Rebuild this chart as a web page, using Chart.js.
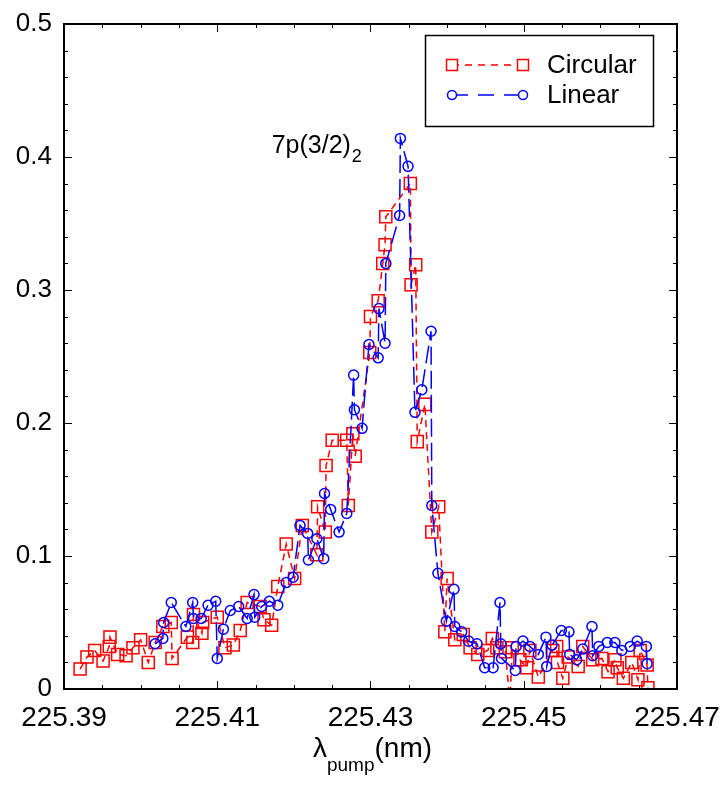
<!DOCTYPE html>
<html><head><meta charset="utf-8">
<script src="https://cdn.jsdelivr.net/npm/chart.js@4.4.1/dist/chart.umd.min.js"></script>
<style>html,body{margin:0;padding:0;background:#fff}</style>
</head><body>
<canvas id="c" width="721" height="795"></canvas>
<script>
// ---- data ----
const circularX = [225.3921,225.3930,225.3940,225.3951,225.3959,225.3960,225.3970,225.3981,225.3990,225.4000,
  225.4010,225.4019,225.4029,225.4040,225.4041,225.4061,225.4068,225.4069,225.4080,225.4081,
  225.4100,225.4110,225.4121,225.4130,225.4139,225.4156,225.4161,225.4171,225.4179,225.4190,
  225.4201,225.4211,225.4230,225.4231,225.4241,225.4242,225.4250,225.4269,225.4271,225.4277,
  225.4280,225.4299,225.4300,225.4310,225.4316,225.4319,225.4320,225.4352,225.4353,225.4359,
  225.4361,225.4371,225.4380,225.4389,225.4397,225.4400,225.4410,225.4421,225.4430,225.4440,
  225.4453,225.4459,225.4465,225.4476,225.4482,225.4485,225.4495,225.4504,225.4508,225.4519,
  225.4538,225.4543,225.4544,225.4551,225.4558,225.4571,225.4577,225.4590,225.4602,225.4610,
  225.4619,225.4622,225.4630,225.4641,225.4649,225.4652,225.4661,225.4662];
const circularY = [0.015,0.024,0.029,0.021,0.032,0.039,0.026,0.025,0.031,0.037,
  0.020,0.035,0.047,0.050,0.023,0.039,0.035,0.056,0.042,0.050,
  0.054,0.031,0.033,0.044,0.065,0.062,0.052,0.048,0.077,0.109,
  0.083,0.123,0.101,0.137,0.118,0.168,0.187,0.187,0.138,0.192,
  0.175,0.253,0.280,0.292,0.320,0.334,0.355,0.380,0.304,0.319,
  0.186,0.214,0.118,0.137,0.043,0.083,0.037,0.041,0.031,0.026,
  0.029,0.038,0.031,0.028,-0.010,0.031,0.022,0.016,0.029,0.009,
  0.029,0.032,0.020,0.008,0.024,0.017,0.032,0.022,0.023,0.013,
  0.022,0.016,0.008,0.020,0.007,0.029,0.018,0.001];
const linearX = [225.4019,225.4029,225.4030,225.4040,225.4059,225.4068,225.4069,225.4079,225.4088,225.4098,
  225.4100,225.4108,225.4117,225.4128,225.4139,225.4148,225.4149,225.4158,225.4168,225.4179,
  225.4190,225.4199,225.4208,225.4218,225.4219,225.4230,225.4239,225.4240,225.4248,225.4259,
  225.4269,225.4278,225.4279,225.4289,225.4298,225.4310,225.4311,225.4319,225.4320,225.4338,
  225.4339,225.4349,225.4358,225.4367,225.4379,225.4380,225.4388,225.4399,225.4409,225.4410,
  225.4419,225.4428,225.4439,225.4449,225.4460,225.4469,225.4470,225.4471,225.4489,225.4490,
  225.4499,225.4508,225.4519,225.4529,225.4530,225.4537,225.4549,225.4559,225.4560,225.4569,
  225.4577,225.4589,225.4590,225.4598,225.4609,225.4619,225.4628,225.4639,225.4648,225.4660,225.4661];
const linearY = [0.034,0.038,0.050,0.065,0.047,0.065,0.053,0.053,0.063,0.066,
  0.023,0.045,0.059,0.062,0.053,0.071,0.054,0.062,0.066,0.063,
  0.080,0.084,0.123,0.117,0.097,0.113,0.098,0.147,0.135,0.118,
  0.132,0.236,0.210,0.196,0.259,0.249,0.286,0.260,0.320,0.356,
  0.414,0.393,0.208,0.225,0.269,0.138,0.087,0.051,0.075,0.047,
  0.043,0.036,0.034,0.016,0.016,0.065,0.034,0.023,0.014,0.032,
  0.036,0.032,0.026,0.039,0.017,0.033,0.044,0.043,0.026,0.022,
  0.030,0.047,0.025,0.032,0.035,0.035,0.029,0.032,0.036,0.032,0.019];
const seriesNames = ['Circular', 'Linear'];
const xTickValues = [225.39, 225.41, 225.43, 225.45, 225.47];
const yTickValues = [0, 0.1, 0.2, 0.3, 0.4, 0.5];
const peakLabel = '7p(3/2)', peakLabelSub = '2';
const peakLabelAt = [225.4171, 0.403];
const xTitle = ['\u03bb', 'pump', '(nm)'];

const FONT = "'Liberation Sans', Arial, Helvetica, sans-serif";
const RED = '#ff0000', BLUE = '#0000ff';
const toPts = (xs, ys) => xs.map((x, i) => ({x, y: ys[i]}));

const decor = {
  id: 'decor',
  afterDatasetsDraw(chart) {
    const {ctx, chartArea: a, scales: {x, y}} = chart;
    ctx.save();
    // frame
    ctx.strokeStyle = '#000'; ctx.lineWidth = 2;
    ctx.strokeRect(a.left, a.top, a.right - a.left, a.bottom - a.top);
    // inward ticks
    ctx.lineWidth = 1;
    ctx.beginPath();
    for (let i = 0; i <= 16; i++) {
      const v = x.min + i * 0.005;
      const px = Math.round(x.getPixelForValue(v)) + 0.5;
      const len = i % 4 === 0 ? 8 : 4;
      ctx.moveTo(px, a.bottom); ctx.lineTo(px, a.bottom - len);
      ctx.moveTo(px, a.top); ctx.lineTo(px, a.top + len);
    }
    for (let i = 0; i <= 25; i++) {
      const v = i * 0.02;
      const py = Math.round(y.getPixelForValue(v)) + 0.5;
      const len = i % 5 === 0 ? 8 : 4;
      ctx.moveTo(a.left, py); ctx.lineTo(a.left + len, py);
      ctx.moveTo(a.right, py); ctx.lineTo(a.right - len, py);
    }
    ctx.stroke();

    // peak annotation
    ctx.fillStyle = '#000';
    ctx.textBaseline = 'alphabetic'; ctx.textAlign = 'left';
    const ax = x.getPixelForValue(peakLabelAt[0]), ay = y.getPixelForValue(peakLabelAt[1]);
    ctx.font = '25px ' + FONT;
    ctx.fillText(peakLabel, ax, ay);
    const w1 = ctx.measureText(peakLabel).width;
    ctx.font = '18px ' + FONT;
    ctx.fillText(peakLabelSub, ax + w1 + 1, ay + 9);

    // x title
    ctx.font = '28px ' + FONT; const wA = ctx.measureText(xTitle[0]).width, wC = ctx.measureText(xTitle[2]).width;
    ctx.font = '19px ' + FONT; const wB = ctx.measureText(xTitle[1]).width;
    let tx = (a.left + a.right) / 2 + 2 - (wA + wB + wC) / 2;
    const ty = 757;
    ctx.font = '28px ' + FONT; ctx.fillText(xTitle[0], tx, ty); tx += wA;
    ctx.font = '19px ' + FONT; ctx.fillText(xTitle[1], tx, ty + 14); tx += wB;
    ctx.font = '28px ' + FONT; ctx.fillText(xTitle[2], tx, ty);

    // legend
    const lx = a.right - 252, ly = a.top + 11, lw = 228, lh = 91;
    ctx.fillStyle = '#fff';
    ctx.fillRect(lx, ly, lw, lh);
    ctx.strokeStyle = '#000'; ctx.lineWidth = 1.5;
    ctx.strokeRect(lx + 0.5, ly + 0.5, lw, lh);
    const rows = [
      {name: seriesNames[0], color: RED, dash: [7, 6], style: 'rect', y: ly + 30},
      {name: seriesNames[1], color: BLUE, dash: [16, 10], style: 'circle', y: ly + 60}
    ];
    rows.forEach(r => {
      const x1 = lx + 27, x2 = lx + 98;
      ctx.strokeStyle = r.color; ctx.lineWidth = 1.5;
      ctx.setLineDash(r.dash);
      ctx.beginPath(); ctx.moveTo(x1, r.y); ctx.lineTo(x2, r.y); ctx.stroke();
      ctx.setLineDash([]);
      [x1, x2].forEach(cx => {
        ctx.beginPath();
        if (r.style === 'rect') ctx.rect(cx - 5.5, r.y - 5.5, 11, 11);
        else ctx.arc(cx, r.y, 4.5, 0, Math.PI * 2);
        ctx.fillStyle = '#fff'; ctx.fill(); ctx.stroke();
      });
      ctx.fillStyle = '#000'; ctx.font = '26px ' + FONT;
      ctx.textBaseline = 'middle';
      ctx.fillText(r.name, lx + 122, r.y + 1);
    });
    ctx.restore();
  }
};

new Chart(document.getElementById('c'), {
  type: 'scatter',
  data: {
    datasets: [
      {label: seriesNames[0], data: toPts(circularX, circularY), showLine: true, order: 2,
       borderColor: RED, borderWidth: 1.5, borderDash: [7, 5],
       pointStyle: 'rect', pointRadius: 8.5, pointBorderColor: RED, pointBorderWidth: 1.5,
       pointBackgroundColor: 'rgba(0,0,0,0)'},
      {label: seriesNames[1], data: toPts(linearX, linearY), showLine: true, order: 1,
       borderColor: BLUE, borderWidth: 1.5, borderDash: [18, 6],
       pointStyle: 'circle', pointRadius: 5, pointBorderColor: BLUE, pointBorderWidth: 1.5,
       pointBackgroundColor: 'rgba(0,0,0,0)'}
    ]
  },
  options: {
    responsive: false, animation: false, events: [],
    layout: {padding: {left: 0, right: 44, top: 24, bottom: 0}},
    plugins: {legend: {display: false}, tooltip: {enabled: false}},
    scales: {
      x: {
        type: 'linear', min: 225.39, max: 225.47,
        grid: {display: false, drawTicks: false}, border: {display: false},
        afterBuildTicks: s => { s.ticks = xTickValues.map(v => ({value: v})); },
        afterFit: s => { s.height = 106; s.paddingLeft = 0; s.paddingRight = 0; },
        ticks: {color: '#000', font: {family: FONT, size: 28}, padding: 12, maxRotation: 0,
          callback: v => Number(v).toFixed(2)}
      },
      y: {
        type: 'linear', min: 0, max: 0.5,
        grid: {display: false, drawTicks: false}, border: {display: false},
        afterBuildTicks: s => { s.ticks = yTickValues.map(v => ({value: v})); },
        afterFit: s => { s.width = 64; s.paddingTop = 0; s.paddingBottom = 0; },
        ticks: {color: '#000', font: {family: FONT, size: 26}, padding: 12,
          callback: v => v === 0 ? '0' : Number(v).toFixed(1)}
      }
    }
  },
  plugins: [decor]
});
</script>
</body></html>
